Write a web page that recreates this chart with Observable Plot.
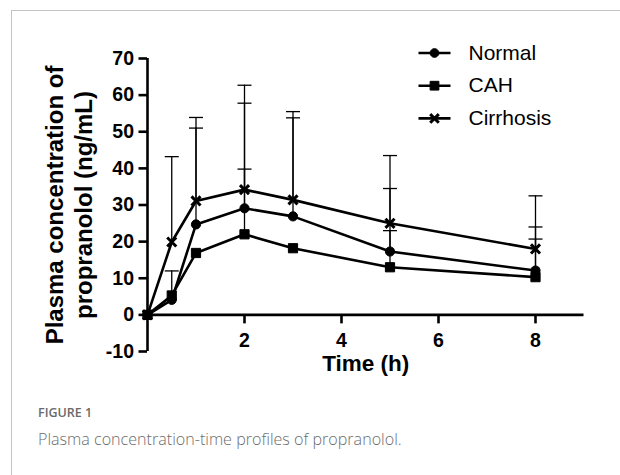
<!DOCTYPE html>
<html>
<head>
<meta charset="utf-8">
<script src="https://cdn.jsdelivr.net/npm/d3@7"></script>
<script src="https://cdn.jsdelivr.net/npm/@observablehq/plot@0.6"></script>
<style>
  html, body { margin: 0; padding: 0; background: #fff; }
  body { position: relative; width: 620px; height: 475px; overflow: hidden; }
  #frame { position: absolute; left: 11px; top: 10px; right: -2px; bottom: -2px;
           border-top: 1px solid #c4c4c4; border-left: 1px solid #c4c4c4; }
  #chart { position: absolute; left: 0; top: 0; }
  #fig { position: absolute; left: 38px; top: 404px; font-family: "Open Sans", sans-serif;
         font-size: 12.5px; color: #6a6a6a; font-weight: 600; letter-spacing: 0; }
  #cap { position: absolute; left: 38px; top: 428px; font-family: "Open Sans", sans-serif;
         font-size: 16.1px; color: #6c6c6c; font-weight: 300; }
</style>
</head>
<body>
<div id="frame"></div>
<div id="chart"></div>
<div id="fig">FIGURE 1</div>
<div id="cap">Plasma concentration-time profiles of propranolol.</div>
<script>
const times = [0, 0.5, 1, 2, 3, 5, 8];
const seriesNames = ["Normal", "CAH", "Cirrhosis"];
const normal = [0, 4.1, 24.7, 29.1, 26.9, 17.3, 12.1];
const cah = [0, 5.3, 16.9, 22.0, 18.2, 13.0, 10.3];
const cirrhosis = [0, 19.9, 31.1, 34.2, 31.4, 25.0, 18.0];
const normalUpper = [null, null, 51.0, 57.8, 53.8, 34.5, 24.0];
const cahUpper = [null, 12.0, null, 39.8, null, 23.0, 20.7];
const cirrhosisUpper = [null, 43.2, 53.9, 62.7, 55.5, 43.5, 32.5];
const yTicks = [-10, 0, 10, 20, 30, 40, 50, 60, 70];
const xTicks = [2, 4, 6, 8];
const xDomain = [0, 9];
const yDomain = [-10, 70];
const yLabel = "Plasma concentration of\npropranolol (ng/mL)";
const xLabel = "Time (h)";

const symbols = {Normal: "circle", CAH: "square", Cirrhosis: "times"};
const radii = {Normal: 4.6, CAH: 5.2, Cirrhosis: 4.2};
const means = {Normal: normal, CAH: cah, Cirrhosis: cirrhosis};
const uppers = {Normal: normalUpper, CAH: cahUpper, Cirrhosis: cirrhosisUpper};

const rows = [];
for (const s of seriesNames) {
  times.forEach((t, i) => rows.push({series: s, time: t, mean: means[s][i], upper: uppers[s][i]}));
}
const errRows = rows.filter(d => d.upper != null);

const vTick = {draw(ctx) { ctx.moveTo(0, 0); ctx.lineTo(0, 8.5); }};
const cap = {draw(ctx) { ctx.moveTo(-7, 0); ctx.lineTo(7, 0); }};
const legLine = {draw(ctx) { ctx.moveTo(-16, 0); ctx.lineTo(16, 0); }};

const legendMarks = [];
seriesNames.forEach((s, i) => {
  const dy = -5.5 + i * 32.7;
  legendMarks.push(Plot.dot([s], {frameAnchor: "top-left", dx: 287, dy, symbol: legLine, fill: "none", stroke: "black", strokeWidth: 2.6}));
  legendMarks.push(Plot.dot([s], {frameAnchor: "top-left", dx: 287, dy, symbol: symbols[s], r: radii[s] * 0.95,
    fill: s === "Cirrhosis" ? "none" : "black", stroke: "black", strokeWidth: s === "Cirrhosis" ? 3 : 1}));
  legendMarks.push(Plot.text([s], {frameAnchor: "top-left", dx: 321, dy, text: d => d, textAnchor: "start",
    fontSize: 21, fill: "black", lineAnchor: "middle"}));
});

const chart = Plot.plot({
  width: 620,
  height: 390,
  marginLeft: 147,
  marginRight: 36.5,
  marginTop: 58,
  marginBottom: 39,
  style: {background: "none", fontFamily: "'Liberation Sans', Arial, sans-serif", overflow: "visible"},
  x: {domain: xDomain, axis: null},
  y: {domain: yDomain},
  marks: [
    Plot.ruleX(errRows, {x: "time", y1: "mean", y2: "upper", stroke: "black", strokeWidth: 1.3}),
    Plot.dot(errRows, {x: "time", y: "upper", symbol: cap, fill: "none", stroke: "black", strokeWidth: 1.3}),
    Plot.ruleX([0], {stroke: "black", strokeWidth: 2.6}),
    Plot.ruleY([0], {stroke: "black", strokeWidth: 2.6}),
    Plot.axisY({ticks: yTicks, tickSize: 8.5, tickPadding: 5, strokeWidth: 2.6, fontSize: 19.5, fontWeight: "bold", fill: "black", label: null, tickFormat: d => String(d)}),
    Plot.dot(xTicks, {x: d => d, y: () => 0, symbol: vTick, fill: "none", stroke: "black", strokeWidth: 2.6}),
    Plot.text(xTicks, {x: d => d, y: () => 0, dy: 25.5, text: d => String(d), fontSize: 19.5, fontWeight: "bold", fill: "black"}),
    Plot.line(rows, {x: "time", y: "mean", z: "series", stroke: "black", strokeWidth: 2.6}),
    ...seriesNames.map(s => Plot.dot(rows.filter(d => d.series === s), {x: "time", y: "mean", symbol: symbols[s], r: radii[s],
      fill: s === "Cirrhosis" ? "none" : "black", stroke: "black", strokeWidth: s === "Cirrhosis" ? 3 : 1})),
    Plot.text([yLabel], {frameAnchor: "left", rotate: -90, dx: -79, text: d => d, fontSize: 24, fontWeight: "bold", lineHeight: 1.17, fill: "black", textAnchor: "middle"}),
    Plot.text([xLabel], {frameAnchor: "bottom", dy: 19, text: d => d, fontSize: 22.5, fontWeight: "bold", fill: "black"}),
    ...legendMarks
  ]
});
document.getElementById("chart").appendChild(chart);
</script>
</body>
</html>
